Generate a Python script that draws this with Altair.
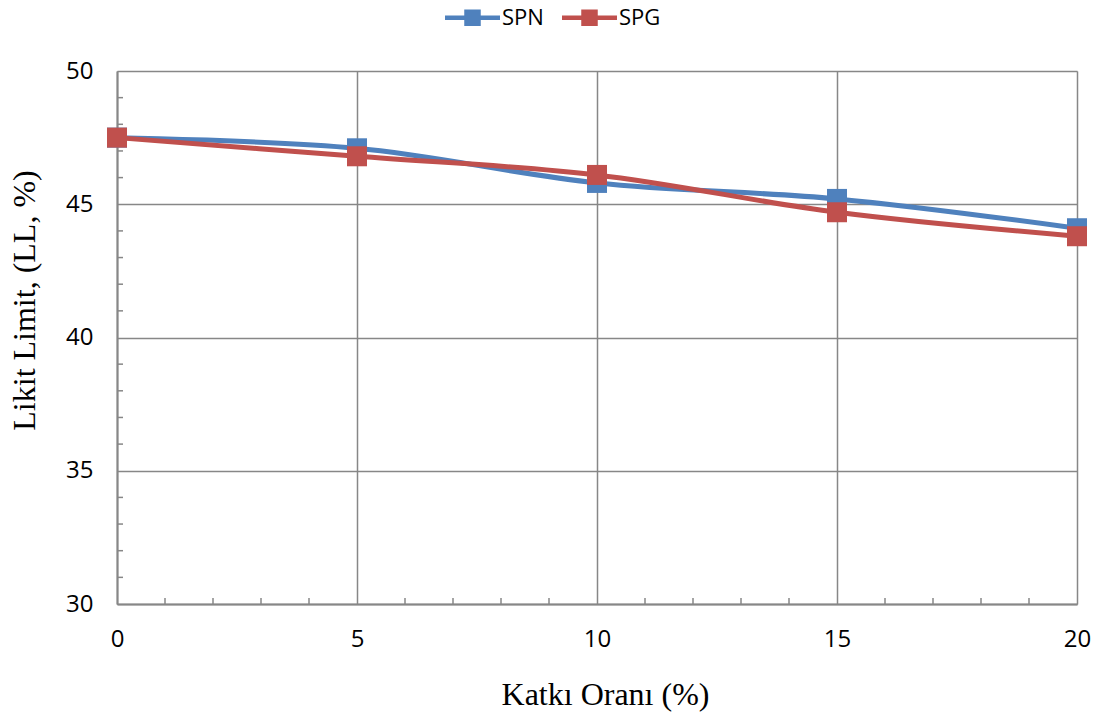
import altair as alt
import pandas as pd

# Data
katki = [0, 5, 10, 15, 20]
spn = [47.5, 47.1, 45.8, 45.2, 44.1]
spg = [47.5, 46.8, 46.1, 44.7, 43.8]
series = ["SPN", "SPG"]
colors = ["#4F81BD", "#C0504D"]
x_ticks = [0, 5, 10, 15, 20]
y_ticks = [30, 35, 40, 45, 50]
x_minor = [v for v in range(0, 21) if v % 5]
y_minor = [v for v in range(30, 51) if v % 5]

W, H = 960, 533
GRAY = "#878787"

df = pd.DataFrame({
    "x": katki + katki,
    "y": spn + spg,
    "s": ["SPN"] * len(spn) + ["SPG"] * len(spg),
})
df_xm = pd.DataFrame({"x": x_minor})
df_ym = pd.DataFrame({"y": y_minor})

xs = alt.Scale(domain=[0, 20], nice=False, zero=False)
ys = alt.Scale(domain=[30, 50], nice=False, zero=False)

x_axis = alt.Axis(
    values=x_ticks, grid=True, gridColor=GRAY, gridWidth=1.5,
    domainColor=GRAY, domainWidth=2, ticks=False, labelFlush=False,
    labelFont="Open Sans", labelFontSize=24, labelColor="#000000", labelPadding=23,
    title="Katkı Oranı (%)", titleFont="Liberation Serif", titleFontSize=32,
    titleFontWeight="normal", titleColor="#000000", titlePadding=28, titleX=488,
)
y_axis = alt.Axis(
    values=y_ticks, grid=True, gridColor=GRAY, gridWidth=1.5,
    domainColor=GRAY, domainWidth=2, ticks=False, labelFlush=False,
    labelFont="Open Sans", labelFontSize=24, labelColor="#000000", labelPadding=24,
    title="Likit Limit, (LL, %)", titleFont="Liberation Serif", titleFontSize=32,
    titleFontWeight="normal", titleColor="#000000", titlePadding=24, titleY=229,
)

legend_symbol = "M-1,-0.08H1V0.08H-1Z M-0.3,-0.3H0.3V0.3H-0.3Z"

color_line = alt.Color("s:N", scale=alt.Scale(domain=series, range=colors), sort=series, legend=None)
color_pt = alt.Color(
    "s:N", scale=alt.Scale(domain=series, range=colors), sort=series,
    legend=alt.Legend(
        title=None, orient="none", direction="horizontal",
        legendX=328, legendY=-81,
        symbolType=legend_symbol, symbolSize=3025, symbolStrokeWidth=0,
        labelFont="Open Sans", labelFontSize=22, labelColor="#000000",
        labelOffset=2, columnPadding=18, padding=0,
    ),
)

base = alt.Chart(df)
lines = base.mark_line(strokeWidth=5, interpolate="cardinal").encode(
    x=alt.X("x:Q", scale=xs, axis=x_axis),
    y=alt.Y("y:Q", scale=ys, axis=y_axis),
    color=color_line,
)
points = base.mark_point(shape="square", filled=True, size=400, opacity=1).encode(
    x=alt.X("x:Q", scale=xs),
    y=alt.Y("y:Q", scale=ys),
    color=color_pt,
)

xminor = alt.Chart(df_xm).mark_rule(color=GRAY, strokeWidth=1.5).encode(
    x=alt.X("x:Q", scale=xs),
    y=alt.value(H),
    y2=alt.value(H - 6),
)
yminor = alt.Chart(df_ym).mark_rule(color=GRAY, strokeWidth=1.5).encode(
    y=alt.Y("y:Q", scale=ys),
    x=alt.value(0),
    x2=alt.value(6),
)

chart = alt.layer(xminor, yminor, lines, points).resolve_legend(
    color="independent"
).properties(
    width=W, height=H,
    autosize=alt.AutoSizeParams(type="none"),
    padding={"left": 117, "top": 71, "right": 30, "bottom": 115},
).configure_view(stroke=None).configure(background="#ffffff")

chart.save("out.html", embed_options={"renderer": "svg", "actions": False})
